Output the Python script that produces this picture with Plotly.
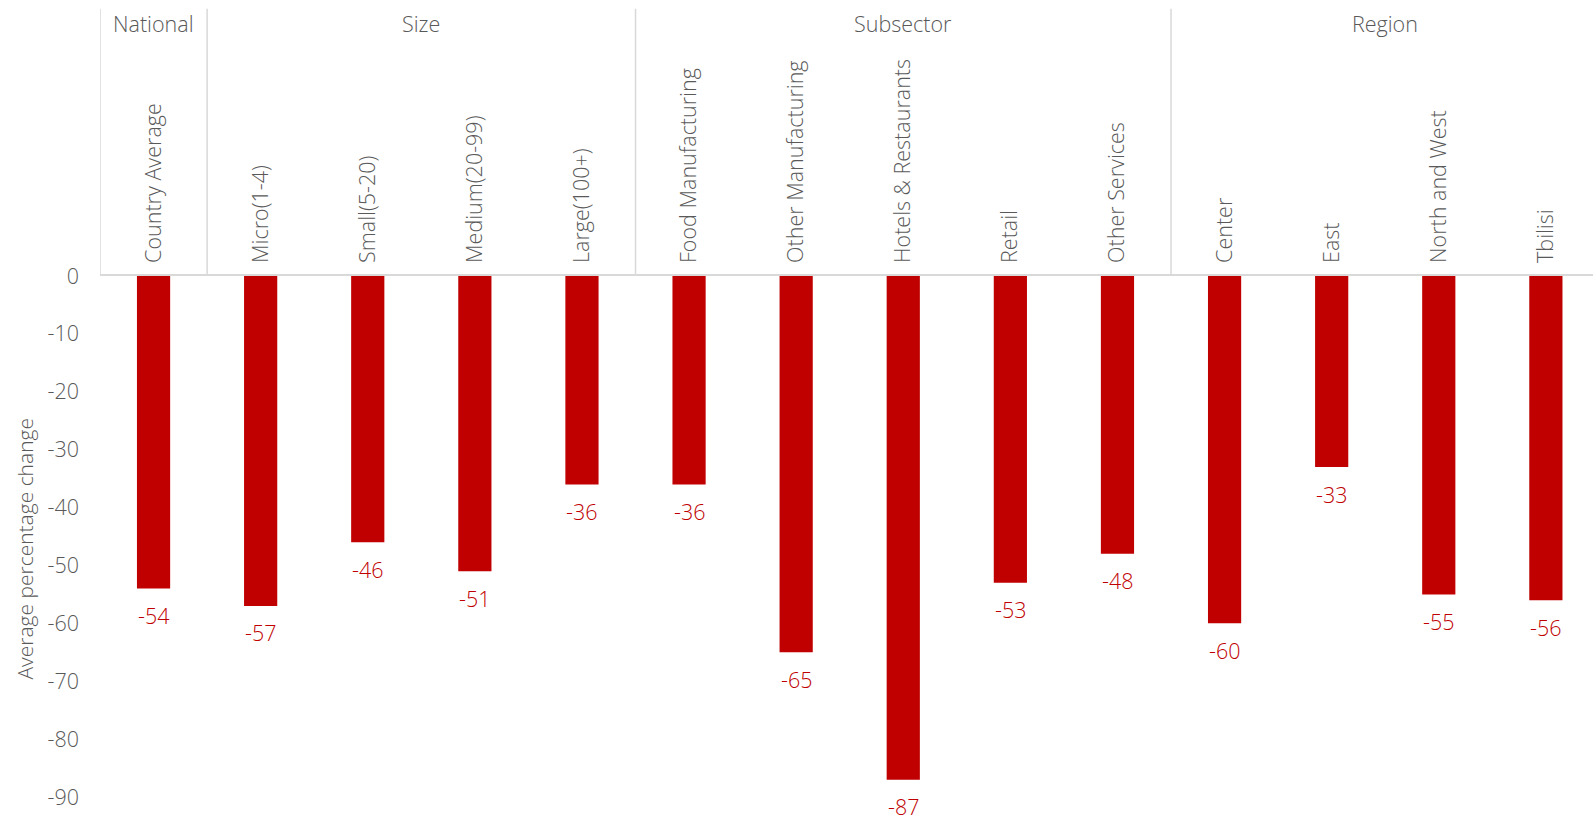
import plotly.graph_objects as go

# Categories, grouped, with the average percentage change for each
categories = [
    "Country Average",
    "Micro(1-4)", "Small(5-20)", "Medium(20-99)", "Large(100+)",
    "Food Manufacturing", "Other Manufacturing", "Hotels & Restaurants", "Retail", "Other Services",
    "Center", "East", "North and West", "Tbilisi",
]
values = [-54, -57, -46, -51, -36, -36, -65, -87, -53, -48, -60, -33, -55, -56]

groups = ["National", "Size", "Subsector", "Region"]
group_sizes = [1, 4, 5, 4]

y_ticks = [0, -10, -20, -30, -40, -50, -60, -70, -80, -90]

BAR_RED = "#C00000"
TEXT_GREY = "#595959"
LINE_GREY = "#D9D9D9"
FONT = "Open Sans"
FS = 21.5

idx = list(range(len(categories)))

fig = go.Figure()
fig.add_trace(go.Bar(
    x=idx, y=values, marker=dict(color=BAR_RED, line=dict(width=0)),
    width=0.31, showlegend=False, hoverinfo="x+y",
))

# value labels under each bar
for i, v in zip(idx, values):
    fig.add_annotation(
        x=i, y=v, xref="x", yref="y", text=f"{v:.0f}", showarrow=False,
        yanchor="middle", yshift=-27,
        font=dict(family=FONT, size=FS, color=BAR_RED, weight=300),
    )

# group separators and group headers
top = 1.513
start = 0
fig.add_shape(type="line", xref="x", yref="paper", x0=-0.5, x1=-0.5, y0=1, y1=top,
              line=dict(color=LINE_GREY, width=1.5))
for name, n in zip(groups, group_sizes):
    end = start + n
    fig.add_shape(type="line", xref="x", yref="paper", x0=end - 0.5, x1=end - 0.5,
                  y0=1, y1=top, line=dict(color=LINE_GREY, width=1.5))
    fig.add_annotation(
        x=(start + end - 1) / 2, y=1.4846, xref="x", yref="paper", text=name,
        showarrow=False, yanchor="middle",
        font=dict(family=FONT, size=FS, color=TEXT_GREY, weight=300),
    )
    start = end

# y-axis title
fig.add_annotation(
    x=-0.0502, y=0.477, xref="paper", yref="paper", text="Average percentage change",
    textangle=-90, showarrow=False, xanchor="center", yanchor="middle",
    font=dict(family=FONT, size=21, color=TEXT_GREY, weight=300),
)

fig.update_layout(
    width=1593, height=815,
    margin=dict(l=100, r=0, t=276, b=18),
    paper_bgcolor="white", plot_bgcolor="white",
    font=dict(family=FONT, size=FS, color=TEXT_GREY, weight=300),
    xaxis=dict(
        side="top", range=[-0.5, 13.44], tickmode="array", tickvals=idx,
        ticktext=categories, tickangle=-90, showline=True, linecolor=LINE_GREY,
        linewidth=1.5, showgrid=False, zeroline=False, ticks="",
        ticklabelstandoff=7,
        tickfont=dict(family=FONT, size=FS, color=TEXT_GREY, weight=300),
    ),
    yaxis=dict(
        range=[-90, 0], tickmode="array", tickvals=y_ticks,
        ticktext=[str(t) for t in y_ticks], showgrid=False, zeroline=False,
        showline=False, ticks="", ticklabelstandoff=20,
        tickfont=dict(family=FONT, size=FS, color=TEXT_GREY, weight=300),
    ),
)

fig.write_html("out.html")
